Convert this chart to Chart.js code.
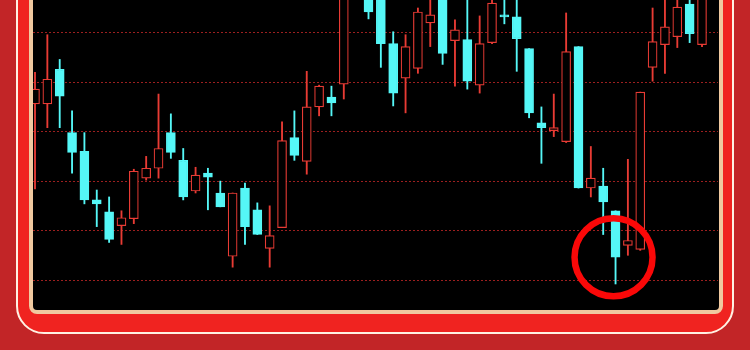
<!DOCTYPE html>
<html lang="en">
<head>
    <meta charset="UTF-8">
    <style>
        body {
            margin: 0;
            width: 750px;
            height: 350px;
            overflow: hidden;
            background: #c22527;
            position: relative;
        }

        .frame {
            position: absolute;
            left: 16px;
            top: -40px;
            width: 718px;
            height: 374px;
            box-sizing: border-box;
            border: 2px solid #fff1e4;
            border-radius: 28px;
            background: #f02320;
        }

        .panel {
            position: absolute;
            left: 29px;
            top: -20px;
            width: 694px;
            height: 334px;
            box-sizing: border-box;
            border: 4px solid #f0c9a0;
            border-radius: 8px;
            background: #000000;
        }

        .chart-box {
            position: absolute;
            left: 33px;
            top: 0;
            width: 685px;
            height: 310px;
        }
    </style>
    <script src="https://cdn.jsdelivr.net/npm/chart.js"></script>
</head>
<body>
    <div class="frame"></div>
    <div class="panel"></div>
    <div class="chart-box">
        <canvas id="kChart"></canvas>
    </div>

    <script>
        // daily candles, left to right (one near the top is fully off screen)
        const opens  = [9.78, 9.78, 10.13, 9.49, 9.30, 8.81, 8.69, 8.55, 8.62, 9.03,
                        9.13, 9.49, 9.21, 8.90, 9.08, 8.88, 8.24, 8.93, 8.71, 8.32,
                        8.53, 9.44, 9.20, 9.75, 9.85, 9.98, 11.29, 11.08, 11.03, 10.39,
                        10.04, 10.14, 10.60, 10.98, 10.42, 10.43, 9.97, 10.40, 10.68, 10.66,
                        10.34, 9.59, 9.51, 9.40, 10.36, 8.93, 8.95, 8.70, 8.35, 8.31,
                        10.15, 10.38, 10.46, 10.79, 10.38];
        const highs  = [10.10, 10.48, 10.23, 9.71, 9.49, 8.91, 8.84, 8.70, 9.12, 9.25,
                        9.88, 9.68, 9.33, 9.14, 9.13, 9.00, 8.88, 8.98, 8.78, 8.75,
                        9.60, 9.71, 10.11, 9.97, 9.96, 11.13, 11.39, 11.19, 11.13, 10.51,
                        10.48, 10.75, 10.93, 11.08, 10.63, 10.88, 10.67, 10.93, 10.88, 10.88,
                        10.34, 9.75, 9.88, 10.70, 10.36, 9.35, 9.13, 8.70, 9.22, 9.90,
                        10.75, 10.88, 10.88, 10.88, 10.98];
        const lows   = [8.92, 9.54, 9.54, 9.08, 8.77, 8.54, 8.38, 8.36, 8.57, 9.01,
                        9.03, 9.23, 8.81, 8.88, 8.71, 8.74, 8.13, 8.36, 8.46, 8.13,
                        8.53, 9.21, 9.07, 9.66, 9.66, 9.83, 10.91, 10.64, 10.15, 9.76,
                        9.69, 10.09, 10.36, 10.18, 9.96, 9.93, 9.89, 10.39, 10.59, 10.11,
                        9.64, 9.18, 9.45, 9.39, 8.93, 8.84, 8.46, 7.96, 8.25, 8.30,
                        10.01, 10.09, 10.35, 10.40, 10.36];
        const closes = [9.93, 10.03, 9.86, 9.29, 8.81, 8.77, 8.41, 8.63, 9.10, 9.13,
                        9.33, 9.29, 8.84, 9.06, 9.04, 8.74, 8.88, 8.54, 8.46, 8.45,
                        9.41, 9.26, 9.75, 9.96, 9.79, 10.98, 11.03, 10.71, 10.39, 9.89,
                        10.36, 10.71, 10.68, 10.29, 10.53, 10.01, 10.39, 10.80, 10.66, 10.44,
                        9.69, 9.54, 9.54, 10.31, 8.93, 9.03, 8.79, 8.23, 8.40, 9.90,
                        10.41, 10.56, 10.76, 10.49, 10.93];
        const gridPrices = [8.0, 8.5, 9.0, 9.5, 10.0, 10.5];
        const markIndex = 47; // the circled candle

        const upColor = '#e83b34';
        const downColor = '#55f7f7';

        const rising = opens.map((o, i) => closes[i] >= o);
        const candleColor = rising.map(r => r ? upColor : downColor);

        const bodies = opens.map((o, i) => ({ x: i, y: [o, closes[i]] }));
        const wicks = lows.map((l, i) => ({ x: i, y: [l, highs[i]] }));

        const circleMark = {
            id: 'circleMark',
            afterDatasetsDraw(chart) {
                const c = chart.ctx;
                const x = chart.scales.x.getPixelForValue(markIndex) - 2;
                const y = chart.scales.y.getPixelForValue(closes[markIndex]);
                c.save();
                c.beginPath();
                c.arc(x, y, 39, 0, Math.PI * 2);
                c.lineWidth = 6.5;
                c.strokeStyle = '#fa0808';
                c.stroke();
                c.restore();
            }
        };

        new Chart(document.getElementById('kChart'), {
            type: 'bar',
            data: {
                datasets: [
                    {
                        label: 'body',
                        data: bodies,
                        order: 0,
                        grouped: false,
                        barThickness: 9,
                        backgroundColor: rising.map(r => r ? '#000000' : downColor),
                        borderColor: candleColor,
                        borderWidth: 1.2,
                        borderSkipped: false
                    },
                    {
                        label: 'wick',
                        data: wicks,
                        order: 1,
                        grouped: false,
                        barThickness: 1.2,
                        backgroundColor: candleColor,
                        borderWidth: 0
                    }
                ]
            },
            options: {
                responsive: true,
                maintainAspectRatio: false,
                animation: false,
                layout: { padding: 0 },
                plugins: {
                    legend: { display: false },
                    tooltip: { enabled: false }
                },
                scales: {
                    x: {
                        type: 'linear',
                        offset: false,
                        min: -0.162,
                        max: 55.295,
                        display: false
                    },
                    y: {
                        min: 7.697,
                        max: 10.831,
                        afterBuildTicks: (axis) => {
                            axis.ticks = gridPrices.map(v => ({ value: v }));
                        },
                        ticks: { display: false },
                        grid: {
                            color: '#9c1f1f',
                            lineWidth: 1,
                            drawTicks: false
                        },
                        border: { display: false, dash: [2, 2] }
                    }
                }
            },
            plugins: [circleMark]
        });
    </script>
</body>
</html>
